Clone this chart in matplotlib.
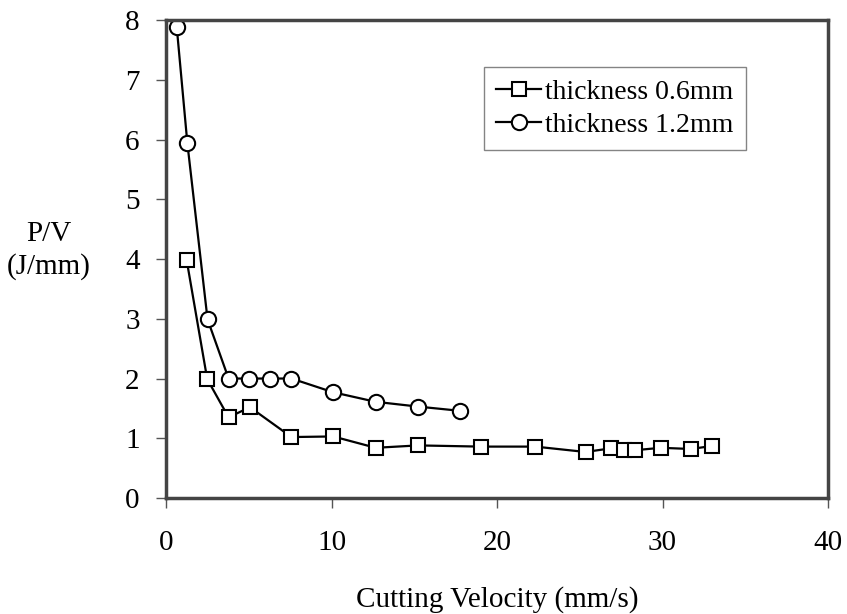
import matplotlib
matplotlib.use('Agg')
import matplotlib.pyplot as plt

plt.rcParams['font.family'] = ['Liberation Serif', 'DejaVu Serif']

# Data
v_06 = [1.25, 2.49, 3.78, 5.07, 7.58, 10.1, 12.67, 15.23, 19.01, 22.31,
        25.35, 26.86, 27.66, 28.36, 29.9, 31.72, 32.97]
pv_06 = [3.98, 1.99, 1.35, 1.52, 1.02, 1.03, 0.84, 0.88, 0.86, 0.86,
         0.77, 0.83, 0.81, 0.80, 0.84, 0.82, 0.87]

v_12 = [0.65, 1.29, 2.51, 3.78, 5.03, 6.31, 7.58, 10.1, 12.67, 15.23, 17.74]
pv_12 = [7.88, 5.94, 2.99, 2.0, 2.0, 2.0, 2.0, 1.77, 1.61, 1.53, 1.46]

xticks = [0, 10, 20, 30, 40]
yticks = [0, 1, 2, 3, 4, 5, 6, 7, 8]

fig = plt.figure(figsize=(8.47, 6.14), dpi=100)
ax = fig.add_axes([0.196, 0.189, 0.7816, 0.778])

ax.plot(v_06, pv_06, color='black', lw=1.6, marker='s', ms=10.5,
        mfc='white', mec='black', mew=1.5, label='thickness 0.6mm')
ax.plot(v_12, pv_12, color='black', lw=1.6, marker='o', ms=11,
        mfc='white', mec='black', mew=1.5, label='thickness 1.2mm')

ax.set_xlim(0, 40)
ax.set_ylim(0, 8)
ax.set_xticks(xticks)
ax.set_yticks(yticks)
ax.tick_params(direction='out', length=7, width=1, color='#555555',
               labelsize=21, pad=12)
ax.tick_params(axis='x', pad=16)

for s in ax.spines.values():
    s.set_linewidth(2.5)
    s.set_color('#444444')

ax.set_xlabel('Cutting Velocity (mm/s)', fontsize=21, labelpad=22)
ax.set_ylabel('P/V\n(J/mm)', fontsize=21, rotation=0, ha='center', va='center',
              linespacing=1.3)
ax.yaxis.set_label_coords(-0.177, 0.518)

leg = ax.legend(loc='upper left', bbox_to_anchor=(0.48, 0.903), fontsize=20,
                frameon=True, fancybox=False, handlelength=1.6,
                handletextpad=0.15, borderpad=0.45, labelspacing=0.28,
                borderaxespad=0)
leg.get_frame().set_edgecolor('#666666')
leg.get_frame().set_linewidth(1.0)

fig.savefig('out.png', dpi=100)
